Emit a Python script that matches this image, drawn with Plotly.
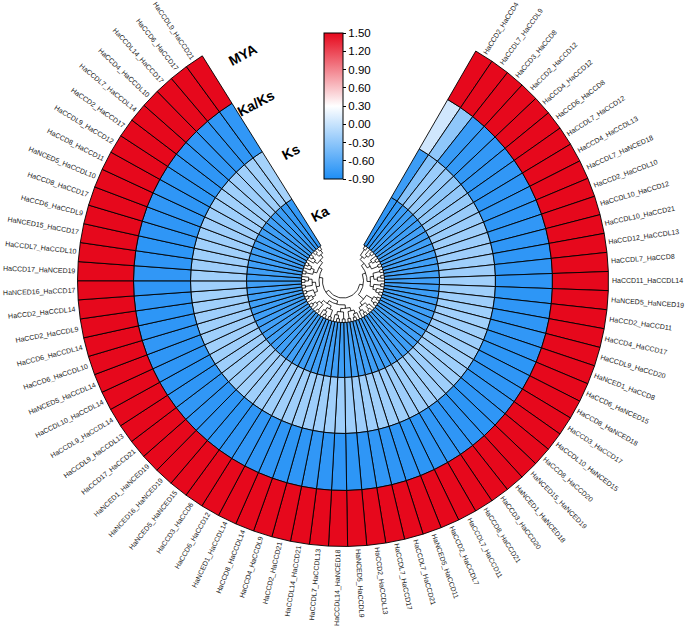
import numpy as np
import plotly.graph_objects as go
import plotly.colors as pc

# gene pairs, clockwise from the right edge of the gap
pairs = [
    "HaCCD2_HaCCD4", "HaCCDL7_HaCCDL9", "HaCCD3_HaCCD8", "HaCCD2_HaCCD12", "HaCCD4_HaCCD12",
    "HaCCD6_HaCCD8", "HaCCDL7_HaCCD12", "HaCCD4_HaCCDL13", "HaCCDL7_HaNCED18", "HaCCD2_HaCCDL10",
    "HaCCDL10_HaCCD12", "HaCCDL10_HaCCD21", "HaCCD12_HaCCDL13", "HaCCDL7_HaCCD8", "HaCCD11_HaCCDL14",
    "HaNCED5_HaNCED19", "HaCCD2_HaCCD11", "HaCCD4_HaCCD17", "HaCCDL9_HaCCD20", "HaNCED1_HaCCD8",
    "HaCCD6_HaNCED15", "HaCCD8_HaNCED18", "HaCCD3_HaCCD17", "HaCCDL10_HaNCED15", "HaCCD8_HaCCD20",
    "HaNCED15_HaNCED19", "HaNCED1_HaNCED18", "HaCCD3_HaCCD20", "HaCCD8_HaCCD21", "HaCCDL7_HaCCD11",
    "HaCCD2_HaCCDL7", "HaNCED5_HaCCD11", "HaCCDL7_HaCCD21", "HaCCDL7_HaCCD17", "HaCCD2_HaCCDL13",
    "HaNCED5_HaCCDL9", "HaCCDL14_HaNCED18", "HaCCDL7_HaCCDL13", "HaCCDL14_HaCCD21", "HaCCD2_HaCCD21",
    "HaCCD4_HaCCDL9", "HaCCD8_HaCCDL14", "HaNCED1_HaCCDL14", "HaCCD6_HaCCD12", "HaCCD3_HaCCD6",
    "HaNCED5_HaNCED15", "HaNCED16_HaNCED19", "HaNCED1_HaNCED19", "HaCCD17_HaCCD21", "HaCCDL9_HaCCDL13",
    "HaCCDL9_HaCCDL14", "HaCCDL10_HaCCDL14", "HaNCED5_HaCCDL14", "HaCCD6_HaCCDL10", "HaCCD6_HaCCDL14",
    "HaCCD2_HaCCDL9", "HaCCD2_HaCCDL14", "HaNCED16_HaCCD17", "HaCCD17_HaNCED19", "HaCCDL7_HaCCDL10",
    "HaNCED15_HaCCD17", "HaCCD6_HaCCDL9", "HaCCD8_HaCCD17", "HaNCED5_HaCCDL10", "HaCCD8_HaCCD11",
    "HaCCDL9_HaCCD12", "HaCCD2_HaCCD17", "HaCCDL7_HaCCDL14", "HaCCD4_HaCCDL10", "HaCCDL14_HaCCD17",
    "HaCCD6_HaCCD17", "HaCCDL9_HaCCD21",
]

# ring values (colour scale clipped at -0.90 / 1.50)
ka = [
    -0.80, -0.78, -0.74, -0.72, -0.73, -0.72, -0.70, -0.71, -0.72, -0.70, -0.71, -0.72,
    -0.70, -0.72, -0.71, -0.72, -0.73, -0.72, -0.71, -0.72, -0.72, -0.73, -0.72, -0.71,
    -0.72, -0.73, -0.72, -0.72, -0.71, -0.72, -0.73, -0.72, -0.72, -0.71, -0.72, -0.72,
    -0.73, -0.72, -0.72, -0.71, -0.72, -0.72, -0.73, -0.72, -0.71, -0.72, -0.72, -0.73,
    -0.72, -0.72, -0.71, -0.72, -0.72, -0.73, -0.72, -0.72, -0.71, -0.72, -0.73, -0.72,
    -0.72, -0.72, -0.71, -0.73, -0.72, -0.72, -0.72, -0.71, -0.73, -0.74, -0.76, -0.78,
]
ks = [
    -0.74, -0.35, -0.24, -0.26, -0.30, -0.28, -0.27, -0.25, -0.24, -0.22, -0.23, -0.22,
    -0.21, -0.22, -0.20, -0.21, -0.22, -0.21, -0.20, -0.21, -0.22, -0.21, -0.20, -0.21,
    -0.21, -0.22, -0.21, -0.20, -0.21, -0.22, -0.21, -0.21, -0.20, -0.21, -0.22, -0.21,
    -0.21, -0.20, -0.21, -0.22, -0.21, -0.21, -0.20, -0.21, -0.22, -0.21, -0.20, -0.21,
    -0.21, -0.22, -0.21, -0.20, -0.21, -0.21, -0.22, -0.21, -0.20, -0.21, -0.21, -0.22,
    -0.21, -0.20, -0.21, -0.22, -0.21, -0.21, -0.20, -0.21, -0.22, -0.21, -0.20, -0.18,
]
ka_ks = [
    0.05, -0.30, -0.76, -0.78, -0.79, -0.80, -0.80, -0.81, -0.80, -0.81, -0.80, -0.81,
    -0.81, -0.80, -0.81, -0.82, -0.81, -0.81, -0.80, -0.81, -0.82, -0.81, -0.81, -0.80,
    -0.81, -0.82, -0.81, -0.81, -0.80, -0.81, -0.82, -0.81, -0.81, -0.80, -0.81, -0.82,
    -0.81, -0.81, -0.80, -0.81, -0.82, -0.81, -0.81, -0.80, -0.81, -0.82, -0.81, -0.81,
    -0.80, -0.81, -0.82, -0.81, -0.81, -0.80, -0.81, -0.82, -0.81, -0.81, -0.80, -0.81,
    -0.82, -0.81, -0.81, -0.80, -0.81, -0.82, -0.81, -0.81, -0.80, -0.81, -0.80, -0.80,
]
mya = [1.5] * 72

rings = [("Ka", ka), ("Ks", ks), ("Ka/Ks", ka_ks), ("MYA", mya)]
ring_edges = [41.5, 96.5, 152.5, 209.5, 265.5]

cmin, cmax = -0.90, 1.50
colorscale = [[0.0, "#1E8EF5"], [0.5, "#FFFFFF"], [1.0, "#E6081C"]]
ticks = [1.50, 1.20, 0.90, 0.60, 0.30, 0.00, -0.30, -0.60, -0.90]

# clustering of the pairs (leaf index order as in pairs)
A = [[[0, 1], [2, [3, 4]]], [[5, [6, 7]], [8, 9]]]
B = [[[10, 11], [[12, 13], 14]], [[15, 16], [17, [18, 19]]]]
C = [[[20, 21], [22, 23]], [[24, [25, 26]], [[27, 28], 29]]]
D = [[[30, [31, 32]], [33, 34]], [[35, 36], [[37, 38], 39]]]
E = [[[40, 41], [[42, 43], 44]], [[45, 46], [47, [48, 49]]]]
F = [[[50, [51, 52]], [53, 54]], [[55, 56], [[57, 58], 59]]]
G = [[[60, 61], [62, [63, 64]]], [[65, [66, 67]], [[68, 69], [70, 71]]]]
tree = [[[A, B], C], [[D, E], [F, G]]]

n = len(pairs)
start, span = 30.0, 298.0
step_ang = span / n


def xy(r, th):
    t = np.radians(th)
    return r * np.sin(t), r * np.cos(t)


fig = go.Figure()

# heatmap cells
for ri, (name, vals) in enumerate(rings):
    r0, r1 = ring_edges[ri], ring_edges[ri + 1]
    for i, v in enumerate(vals):
        a0 = start + i * step_ang
        a1 = a0 + step_ang
        th = np.linspace(a0, a1, 6)
        xo, yo = xy(r1, th)
        xi, yi = xy(r0, th[::-1])
        xs = list(xo) + list(xi) + [xo[0]]
        ys = list(yo) + list(yi) + [yo[0]]
        t = (min(max(v, cmin), cmax) - cmin) / (cmax - cmin)
        col = pc.sample_colorscale(colorscale, [t])[0]
        fig.add_trace(go.Scatter(
            x=xs, y=ys, mode="lines", fill="toself", fillcolor=col,
            line=dict(color="black", width=0.9), hoverinfo="skip", showlegend=False
        ))

# dendrogram
R_LEAF, R_ROOT = ring_edges[0], 17.0


def height(node):
    if isinstance(node, int):
        return 0
    return 1 + max(height(c) for c in node)


H = height(tree)
dstep = (R_LEAF - R_ROOT) / H
dx, dy = [], []


def draw(node):
    if isinstance(node, int):
        return start + (node + 0.5) * step_ang, R_LEAF
    kids = [draw(c) for c in node]
    r = R_LEAF - height(node) * dstep
    angs = [k[0] for k in kids]
    th = np.linspace(min(angs), max(angs), 30)
    ax, ay = xy(r, th)
    dx.extend(list(ax) + [None])
    dy.extend(list(ay) + [None])
    for ka_, kr in kids:
        x0, y0 = xy(r, ka_)
        x1, y1 = xy(kr, ka_)
        dx.extend([x0, x1, None])
        dy.extend([y0, y1, None])
    return (min(angs) + max(angs)) / 2, r


draw(tree)
fig.add_trace(go.Scatter(x=dx, y=dy, mode="lines", line=dict(color="black", width=0.8),
                         hoverinfo="skip", showlegend=False))

# colorbar
fig.add_trace(go.Scatter(
    x=[0, 0], y=[0, 0], mode="markers", hoverinfo="skip", showlegend=False,
    marker=dict(size=1, opacity=0, color=[cmin, cmax], cmin=cmin, cmax=cmax,
                colorscale=colorscale, showscale=True,
                colorbar=dict(x=324 / 685, xanchor="left", xpad=0, y=1 - 106 / 628,
                              yanchor="middle", ypad=0, len=146 / 628, thickness=19,
                              outlinecolor="black", outlinewidth=1,
                              tickvals=ticks, ticktext=[f"{t:.2f}" for t in ticks],
                              ticks="outside", ticklen=3, tickcolor="black",
                              tickfont=dict(family="Arial", size=11.5, color="black")))
))

# pair labels
cw = {"H": 722, "a": 556, "C": 722, "D": 722, "L": 556, "N": 722, "E": 667, "_": 556}
fsize = 7.0
annotations = []
for i, lab in enumerate(pairs):
    th = start + (i + 0.5) * step_ang
    w = sum(cw.get(c, 556) for c in lab) * fsize / 1000
    x, y = xy(268.5 + w / 2, th)
    ang = th - 90 if th < 180 else th - 270
    annotations.append(dict(x=x, y=y, text=lab, showarrow=False, textangle=ang,
                            xanchor="center", yanchor="middle",
                            font=dict(family="Arial", size=fsize, color="#1a1a1a")))

# ring titles in the gap
ring_titles = [("Ka", -19, 71), ("Ks", -22, 139), ("Ka/Ks", -26, 198), ("MYA", -24, 247)]
for txt, th, r in ring_titles:
    x, y = xy(r, th)
    annotations.append(dict(x=x, y=y, text=f"<b>{txt}</b>", showarrow=False, textangle=-28,
                            font=dict(family="Arial", size=14, color="black")))

fig.update_layout(
    width=685, height=628,
    margin=dict(l=0, r=0, t=0, b=0),
    plot_bgcolor="white", paper_bgcolor="white",
    xaxis=dict(range=[-343, 342], visible=False, fixedrange=True),
    yaxis=dict(range=[-347, 281], visible=False, fixedrange=True),
    annotations=annotations,
    showlegend=False,
)

# drop the default page margin so the figure sits at the window's top-left corner
fig.write_html("out.html", config={"displayModeBar": False},
               post_script="document.body.style.margin='0';")
